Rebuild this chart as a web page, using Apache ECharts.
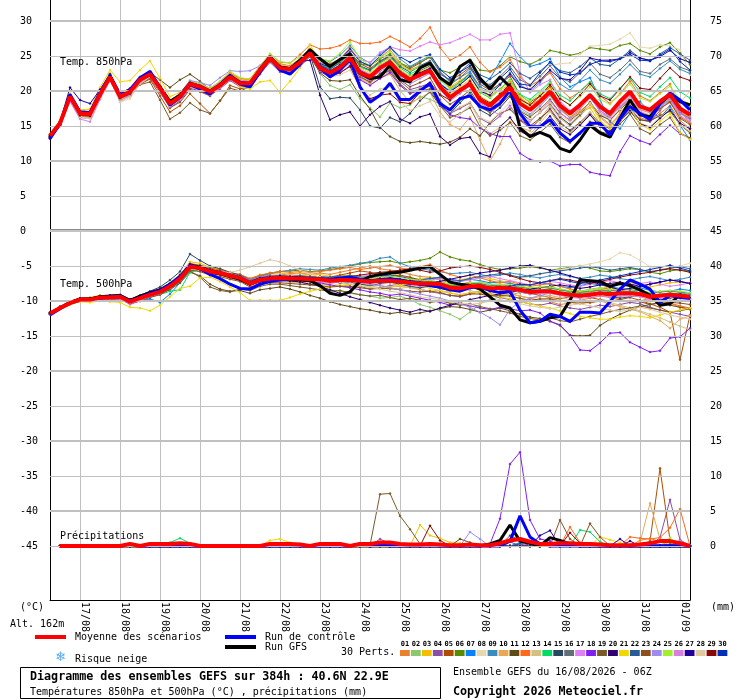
<!DOCTYPE html>
<html><head><meta charset="utf-8">
<script src="https://cdn.jsdelivr.net/npm/echarts@6/dist/echarts.min.js"></script>
<style>html,body{margin:0;padding:0;background:#fff}#c{width:740px;height:700px}</style>
</head><body><div id="c"></div>
<script>
const dayLabels = ['17/08','18/08','19/08','20/08','21/08','22/08','23/08','24/08','25/08','26/08','27/08','28/08','29/08','30/08','31/08','01/09'];
const leftTicks = [30,25,20,15,10,5,0,-5,-10,-15,-20,-25,-30,-35,-40,-45];
const rightTicks = [75,70,65,60,55,50,45,40,35,30,25,20,15,10,5,0];
const gridValues = [30,25,20,15,10,5,-5,-10,-15,-20,-25,-30,-35,-40,-45];
const pertColors = ['#e8822e','#8cc86e','#f0c000','#8c4fa8','#b04d00','#5a8a00','#0a82ff','#e8d8b0','#3a8cc0','#e8a858','#604a18','#ff6a1a','#d4c080','#00dc64','#284860','#646e78','#e080f8','#8020f0','#7a5a28','#300070','#f0d800','#285c98','#8a5020','#9c8cf0','#a0f030','#d880e0','#200098','#e0c8a0','#880808','#0030b8'];

// ---- 850 hPa temperature (°C), 6-hourly from 16/08 06Z ----
const mean850 = [13.6,15.4,19.2,16.8,16.7,19.5,22.0,19.2,19.9,21.6,22.4,20.4,18.2,19.2,21.0,20.6,19.9,20.8,22.0,21.1,21.1,23.0,24.7,23.3,23.1,24.1,25.4,23.3,22.6,23.4,24.7,22.6,22.0,23.3,24.1,22.5,21.6,22.3,22.9,20.6,19.1,20.1,21.0,18.7,17.9,19.2,20.5,18.2,17.3,18.5,19.9,17.9,16.8,18.0,19.4,17.8,16.8,18.5,19.9,17.8,17.3,18.5,19.5,17.5,16.6];
const ctrl850 = [13.2,15.3,19.5,17.0,16.9,19.8,22.2,19.5,20.2,21.9,22.8,20.5,18.0,19.1,20.9,20.3,19.6,20.9,22.2,21.0,20.6,22.7,24.8,23.0,22.4,23.8,25.5,23.3,22.0,23.0,24.5,20.6,18.4,19.4,21.1,18.8,18.8,20.0,21.1,18.2,17.3,18.9,19.3,17.8,17.3,18.2,20.1,16.8,14.9,14.9,15.9,14.0,12.8,14.0,15.4,15.4,13.7,16.1,17.8,16.8,15.9,18.2,19.7,18.7,17.3];
const gfs850 = [13.5,15.4,19.3,16.9,16.9,19.6,22.1,19.4,19.9,21.7,22.3,20.6,18.5,19.4,21.1,20.7,20.0,20.9,22.2,21.2,21.0,23.1,24.9,23.4,23.2,24.4,25.9,24.6,23.5,24.5,25.3,22.5,21.8,22.0,23.7,21.6,21.3,23.3,24.0,21.9,20.9,23.5,24.4,21.8,20.3,22.0,20.6,14.7,13.5,14.1,13.5,11.8,11.3,13.0,15.1,14.0,13.4,16.1,18.7,16.6,16.3,18.2,19.4,18.5,18.0];
const t850_01 = [13.8,15.6,19.5,17.2,17.0,19.8,22.3,19.5,20.1,21.9,22.6,20.8,18.6,19.5,21.2,20.9,20.3,21.1,22.4,21.6,21.4,23.4,25.0,23.9,23.6,24.6,26.0,24.5,23.9,24.6,26.2,24.3,23.5,24.8,25.9,24.1,23.0,23.6,24.2,22.1,20.4,21.3,22.6,20.5,19.2,20.3,21.4,19.1,18.0,18.8,20.1,17.5,16.2,17.1,18.3,16.4,15.2,16.6,18.0,16.2,15.7,16.8,17.9,15.8,14.6];
const t850_02 = [13.3,15.1,18.8,16.4,16.2,19.3,22.4,19.0,19.5,21.4,22.0,20.1,17.9,18.9,20.6,20.2,19.6,20.6,21.8,20.7,20.9,22.8,24.5,23.0,22.8,23.8,25.2,22.5,20.8,20.2,20.9,18.9,17.6,16.3,18.3,17.6,18.0,19.2,18.8,18.1,17.5,18.6,19.6,17.6,17.0,18.3,19.8,17.3,16.5,17.8,19.3,17.4,16.6,17.9,19.6,17.3,15.8,17.5,18.9,16.9,16.5,17.8,19.0,16.8,15.9];
const t850_03 = [13.9,15.7,19.6,17.3,17.4,20.0,22.5,19.8,20.3,22.0,22.9,20.9,18.7,19.6,21.3,20.9,20.4,21.3,22.5,21.7,21.6,23.5,25.1,23.8,23.4,24.5,25.9,24.1,23.4,24.0,25.2,23.5,22.9,24.1,24.8,23.6,22.9,23.4,23.9,21.8,20.6,21.5,22.4,20.3,19.4,20.1,21.0,18.9,18.1,19.2,20.5,18.0,16.1,16.9,17.6,15.4,14.8,16.5,18.7,17.4,16.9,18.3,19.4,17.1,16.2];
const t850_04 = [13.2,15.0,18.6,16.2,16.1,19.0,21.6,18.7,19.3,21.1,21.8,19.8,17.6,18.6,20.4,20.0,19.4,20.3,21.5,20.6,20.6,22.4,24.1,22.7,22.6,23.5,24.9,22.8,22.1,22.9,24.0,22.1,21.2,22.4,23.0,21.4,20.2,20.6,21.1,18.7,16.8,17.5,18.3,16.1,15.3,16.4,17.9,15.8,14.7,15.9,17.5,15.6,14.3,15.2,16.7,14.9,14.2,16.0,17.6,15.9,15.6,17.2,18.8,16.9,16.1];
const t850_05 = [13.4,15.2,18.9,16.5,16.3,19.1,21.8,18.9,19.4,21.0,21.7,19.3,17.0,17.9,19.6,18.2,16.8,18.6,20.8,20.3,20.6,22.6,24.3,23.0,22.9,24.0,25.3,23.7,23.3,24.4,25.6,23.9,23.2,24.3,25.1,23.8,23.2,24.0,24.9,22.7,21.5,22.3,23.4,21.0,20.1,21.0,22.1,19.4,18.4,19.3,20.6,18.3,17.0,18.1,19.3,17.5,16.5,17.7,18.9,17.0,16.3,17.5,18.5,16.3,15.4];
const t850_06 = [13.7,15.5,19.3,17.0,16.9,19.6,22.1,19.4,20.0,21.7,22.5,20.5,18.4,19.4,21.1,20.7,20.1,21.0,22.2,21.3,21.3,23.2,24.9,23.5,23.3,24.3,25.6,24.0,23.8,24.5,25.4,23.9,23.6,24.6,25.3,24.0,23.4,24.1,24.8,23.0,22.6,23.4,24.5,23.0,22.8,23.6,24.9,24.2,23.8,24.5,25.8,25.5,25.1,25.4,26.2,26.0,25.8,26.5,26.8,25.8,25.3,26.3,26.9,25.4,23.8];
const t850_07 = [13.5,15.3,19.0,16.6,16.5,19.4,21.9,19.1,19.8,21.5,22.3,20.3,18.1,19.1,20.9,20.5,19.8,20.7,21.9,21.0,21.0,22.9,24.6,23.2,23.0,24.0,25.3,23.6,22.9,23.8,25.1,23.0,22.3,23.5,24.5,22.8,21.9,22.6,23.3,21.1,20.0,21.2,22.5,20.5,21.8,24.2,26.8,24.9,23.5,23.9,24.6,22.0,20.6,21.3,21.9,18.8,15.6,14.6,16.8,18.5,17.0,16.2,17.8,15.1,13.0];
const t850_08 = [13.8,15.6,19.0,16.4,16.0,19.0,21.7,18.4,18.9,21.1,22.2,20.3,18.3,19.4,21.2,20.7,20.0,21.1,22.4,21.4,21.2,23.3,24.9,23.6,23.4,24.4,25.8,23.9,23.1,23.8,24.9,22.9,22.2,23.6,24.7,22.7,21.6,22.2,22.8,20.9,19.8,20.9,22.1,20.4,19.7,20.8,22.4,20.6,20.3,21.8,23.6,23.9,24.0,25.3,26.4,26.5,26.7,27.4,28.3,26.3,26.1,26.6,26.4,25.9,22.3];
const t850_09 = [13.6,15.5,19.4,17.1,17.0,19.8,22.2,19.5,20.2,21.8,22.5,20.6,18.5,19.3,21.1,20.8,20.2,21.0,22.1,21.2,21.3,23.1,24.8,23.4,23.2,24.2,25.5,24.6,24.2,25.1,26.5,24.8,24.0,25.3,26.2,24.6,23.5,24.3,25.0,22.8,21.2,21.9,22.8,20.6,19.9,21.0,22.6,20.9,20.0,21.2,22.8,21.0,20.1,21.5,23.0,21.6,21.1,22.4,23.8,22.4,22.0,23.2,24.3,23.1,22.5];
const t850_10 = [13.5,15.2,18.9,16.6,16.4,19.3,21.8,19.0,19.6,21.4,22.2,20.2,18.0,18.9,20.7,20.3,19.6,20.5,21.7,20.8,20.8,22.7,24.4,23.0,22.8,23.9,25.2,23.0,22.2,22.9,24.0,21.8,20.9,21.8,22.4,20.1,18.3,19.0,19.8,17.0,15.2,14.5,16.3,13.0,10.0,12.4,15.6,14.8,14.3,16.0,17.9,16.1,15.0,16.4,18.0,16.2,15.0,16.9,18.5,16.6,16.0,17.4,18.6,16.4,15.5];
const t850_11 = [13.7,15.6,19.4,17.1,17.0,19.9,22.3,19.6,20.4,22.0,22.6,21.6,20.5,21.6,22.4,21.4,20.2,21.0,22.1,21.0,20.9,22.8,24.5,23.1,22.8,23.8,25.0,22.6,21.5,21.4,21.6,19.3,17.4,14.8,13.5,12.8,12.6,12.8,12.6,12.4,12.7,13.4,14.6,13.6,15.5,16.8,17.4,15.9,15.0,16.1,17.3,15.4,14.4,15.5,16.9,15.3,14.6,15.8,17.1,15.9,15.7,16.5,17.1,15.2,14.0];
const t850_12 = [13.8,15.7,19.5,17.2,17.1,19.9,22.4,19.6,20.2,21.9,22.7,20.8,18.6,19.6,21.4,21.0,20.4,21.3,22.6,21.8,21.7,23.6,25.3,24.1,24.0,25.2,26.6,26.0,26.1,26.5,27.3,26.8,26.8,27.0,27.8,27.1,26.3,27.5,29.1,26.2,24.4,25.1,26.3,24.1,22.7,23.4,24.5,22.0,20.8,21.5,22.6,20.3,19.0,19.9,21.2,19.3,18.2,19.6,21.4,19.3,18.6,19.8,21.0,17.2,15.4];
const t850_13 = [13.4,15.3,19.0,16.5,16.3,19.2,21.8,18.8,19.3,21.3,22.1,20.0,17.8,18.8,20.6,20.2,19.5,20.5,21.8,20.9,20.8,22.7,24.4,23.0,22.7,23.7,25.1,22.9,22.0,22.8,24.0,21.9,21.1,22.1,22.7,21.0,19.8,20.4,21.0,18.5,16.9,17.7,18.4,15.6,13.9,14.8,16.2,14.1,13.8,15.4,17.1,15.0,14.0,15.3,16.9,15.0,14.1,15.6,17.1,15.4,14.9,16.3,17.4,15.1,14.3];
const t850_14 = [13.5,15.4,19.1,16.9,16.8,19.6,22.1,19.3,19.9,21.7,22.4,20.5,18.3,19.3,21.1,20.6,20.0,20.9,22.1,21.2,21.2,23.1,24.8,23.4,23.2,24.2,25.5,23.8,23.2,24.0,25.3,23.4,22.9,24.0,24.9,23.3,22.4,23.2,23.8,21.6,20.3,21.2,22.2,19.8,19.0,20.3,21.6,19.5,18.8,20.0,21.3,19.4,18.6,20.0,21.3,19.6,18.9,20.4,21.8,19.8,19.2,20.6,21.9,19.9,19.0];
const t850_15 = [13.2,15.1,18.9,16.6,16.5,19.3,21.9,19.0,19.7,21.4,22.2,20.2,18.0,19.1,20.8,20.4,19.7,20.6,21.8,21.0,21.0,22.9,24.6,23.2,23.1,24.1,25.2,20.6,18.9,19.1,19.0,17.3,15.0,14.7,16.2,15.6,16.8,18.6,19.9,17.9,16.8,18.3,19.8,17.3,16.5,17.6,19.2,17.0,15.8,16.9,18.2,16.3,15.2,16.6,18.4,16.5,15.9,17.3,18.8,16.8,16.3,17.8,19.3,17.6,16.9];
const t850_16 = [13.6,15.4,19.2,16.8,16.6,19.5,22.0,19.2,19.8,21.6,22.3,20.4,18.2,19.2,21.0,20.5,19.8,20.7,22.0,21.0,21.0,22.9,24.6,23.2,23.0,24.0,25.3,23.2,22.5,23.3,24.8,22.8,22.2,23.6,24.4,22.9,22.1,22.9,23.6,21.8,20.9,21.9,23.2,21.4,20.9,22.1,23.5,21.6,20.9,22.1,23.6,21.9,21.3,22.6,24.0,22.4,21.9,23.0,24.4,22.8,22.5,23.8,24.6,23.4,22.9];
const t850_17 = [13.7,15.5,19.2,16.6,16.4,19.4,22.0,19.0,19.6,21.7,22.5,20.6,18.4,19.5,21.3,20.9,20.3,21.2,22.3,21.5,21.4,23.3,24.9,23.6,23.3,24.4,25.6,24.0,23.4,24.4,25.9,24.5,24.1,25.5,26.3,25.9,25.7,26.4,27.0,26.6,26.9,27.5,28.1,27.3,27.3,28.1,28.3,22.5,19.8,20.9,21.6,18.6,17.2,18.1,19.3,17.0,15.9,17.3,19.0,17.1,16.4,17.6,18.8,16.5,15.6];
const t850_18 = [13.4,15.2,19.0,16.7,16.6,19.4,21.9,19.1,19.7,21.5,22.2,20.3,18.1,19.0,20.8,20.3,19.7,20.6,21.8,20.9,20.9,22.8,24.5,23.1,22.9,23.9,25.1,22.8,22.0,22.6,23.6,21.6,20.8,21.8,22.6,20.8,19.6,20.2,20.7,18.2,16.6,16.2,16.0,14.7,13.9,13.5,13.5,11.1,10.2,9.9,10.0,9.3,9.5,9.5,8.4,8.1,7.9,11.3,13.6,12.9,12.4,13.8,15.1,13.9,13.2];
const t850_19 = [13.5,15.3,19.1,16.7,16.5,19.4,21.9,19.1,19.5,20.9,21.3,18.7,16.0,16.9,18.3,17.3,16.8,18.6,20.4,20.0,20.6,22.5,24.3,23.0,22.9,23.9,25.2,23.3,22.7,23.3,24.4,22.3,21.5,22.3,22.9,21.0,19.8,20.0,20.3,17.9,16.2,16.8,17.6,14.9,13.6,14.4,15.5,13.6,13.0,14.1,15.3,13.4,12.6,13.9,15.6,14.2,13.8,15.3,16.7,14.6,13.9,15.2,16.2,14.0,13.3];
const t850_20 = [13.3,15.1,19.0,16.9,16.8,19.7,22.2,19.3,19.9,21.6,22.3,20.3,18.1,19.1,20.9,20.5,19.8,20.8,22.1,21.2,21.2,23.1,24.8,23.4,23.2,24.2,24.4,19.4,15.9,16.6,17.0,15.0,16.6,17.8,18.5,16.0,15.4,16.3,16.7,13.5,12.3,13.2,13.4,11.1,10.6,14.9,16.2,14.3,13.5,14.9,16.4,14.6,13.8,15.1,16.6,14.9,14.2,15.8,17.2,15.3,14.8,16.1,17.3,15.4,14.6];
const t850_21 = [13.7,15.5,19.4,17.3,17.4,20.5,23.0,21.3,21.5,23.0,24.3,21.8,19.2,19.8,21.3,20.8,20.2,21.0,21.9,20.6,20.3,21.3,21.5,19.8,21.4,23.3,26.6,24.3,23.5,24.2,25.4,23.3,22.6,23.8,24.7,23.1,22.1,22.8,23.4,21.0,19.6,20.6,21.7,19.3,18.4,19.6,21.0,18.7,17.6,18.8,20.2,17.8,16.4,17.2,18.3,15.8,14.6,16.0,17.5,15.2,14.5,15.7,16.8,14.0,13.1];
const t850_22 = [13.6,15.5,19.3,16.9,16.8,19.7,22.1,19.3,19.9,21.7,22.4,20.4,18.3,19.3,21.0,20.6,20.0,20.9,22.1,21.2,21.1,23.0,24.8,23.4,23.1,24.1,25.4,23.7,23.1,24.1,25.5,23.6,23.0,24.2,25.0,23.5,22.7,23.6,24.3,22.4,21.6,22.7,24.0,22.3,21.7,22.7,24.0,22.5,21.8,22.8,24.1,22.9,22.6,23.5,24.7,23.8,23.6,24.6,25.8,24.7,24.3,25.3,26.2,25.3,24.4];
const t850_23 = [13.5,15.3,19.0,16.6,16.5,19.3,21.8,19.0,19.7,21.4,22.1,20.1,17.6,18.4,20.2,19.9,19.3,20.5,21.8,20.9,20.9,22.8,24.4,23.1,22.9,23.9,25.1,23.0,22.3,23.0,24.2,22.0,21.3,22.5,23.3,21.6,20.6,21.2,21.9,19.4,18.1,19.0,20.1,17.8,16.9,18.0,19.4,17.1,16.3,17.4,18.8,16.9,15.8,16.9,18.4,16.7,15.8,17.3,18.8,16.9,16.4,17.5,18.4,16.1,15.2];
const t850_24 = [13.6,15.4,19.1,16.7,16.6,19.5,21.9,19.2,19.8,21.6,22.5,20.7,18.6,19.7,21.5,21.2,20.8,21.9,22.9,22.8,22.9,23.6,25.1,23.4,23.2,24.0,25.1,22.9,22.4,23.2,24.4,22.3,21.6,22.8,23.6,22.0,21.0,21.8,22.5,20.2,18.6,19.6,20.8,18.3,17.4,18.6,19.9,17.6,16.7,17.9,19.4,17.3,16.2,17.4,19.0,17.2,16.2,17.7,19.2,17.1,16.5,17.7,18.9,16.8,15.9];
const t850_25 = [13.7,15.6,19.3,16.9,16.8,19.8,22.2,19.4,20.0,21.9,22.7,20.7,18.5,19.5,21.3,21.0,20.4,21.4,22.8,21.9,21.7,23.5,25.3,24.2,24.0,24.9,25.8,24.6,24.3,25.4,27.0,24.6,23.6,24.8,25.6,23.9,22.9,23.5,24.0,21.7,20.3,21.1,22.1,19.9,19.1,20.2,21.5,19.3,18.5,19.7,21.1,19.0,18.0,19.2,20.6,18.8,18.1,19.5,21.0,19.0,18.5,19.6,20.7,18.7,17.9];
const t850_26 = [13.5,15.3,18.5,16.0,15.6,18.8,21.5,18.6,19.4,21.2,22.0,20.0,17.8,18.8,20.6,20.2,19.5,20.5,21.7,20.8,20.8,22.7,24.4,23.0,22.9,23.8,25.2,23.4,22.8,23.8,25.1,23.1,22.4,23.6,24.3,22.7,21.6,22.4,23.0,20.6,19.3,20.3,21.5,19.1,17.4,16.5,17.8,16.0,15.6,17.0,18.6,16.8,15.9,17.6,19.5,17.2,16.3,17.9,19.4,17.3,16.9,18.1,19.3,17.2,16.4];
const t850_27 = [13.2,15.6,20.5,18.7,18.2,20.2,22.4,19.6,20.0,21.7,22.6,20.6,18.4,19.4,21.2,20.7,20.1,20.9,22.2,21.3,21.2,23.2,24.9,23.6,23.3,24.3,25.6,23.6,22.9,23.7,25.0,22.9,22.2,23.4,24.2,22.7,21.8,22.6,23.2,21.0,19.9,20.9,22.1,20.0,19.4,20.9,22.4,20.6,20.2,21.5,23.0,21.8,21.6,22.9,24.7,24.4,24.4,24.6,25.5,24.7,24.4,24.9,25.8,24.6,24.1];
const t850_28 = [13.6,15.3,18.8,16.3,16.1,19.1,21.6,18.5,19.1,21.0,22.0,20.1,18.0,19.0,20.8,20.5,19.8,20.8,22.0,21.0,21.0,22.9,24.6,23.2,23.0,24.0,25.2,23.0,22.0,22.3,23.0,20.5,19.4,20.3,20.6,18.5,17.2,17.9,18.5,16.4,15.6,16.7,18.0,16.2,15.6,16.9,18.4,16.6,15.8,16.9,18.3,16.5,15.6,16.8,18.3,16.7,16.0,17.4,19.0,17.1,16.6,17.9,19.2,18.3,20.0];
const t850_29 = [13.4,15.2,18.9,16.5,16.4,19.3,21.9,19.0,19.6,21.5,22.2,20.2,18.1,19.1,20.8,20.4,19.7,20.7,21.9,21.0,21.0,22.9,24.5,23.2,23.0,24.0,25.2,23.0,22.2,22.6,23.5,20.5,18.9,19.4,19.6,18.4,18.2,19.8,21.2,19.5,18.7,20.0,21.4,19.1,18.3,19.6,21.0,18.8,18.0,19.3,20.9,18.9,18.0,19.4,21.0,19.3,18.7,20.3,22.0,20.4,20.2,21.8,23.3,22.0,21.5];
const t850_30 = [13.5,15.5,19.3,17.0,16.9,19.8,22.3,19.4,20.1,21.8,22.6,20.5,18.4,19.4,21.1,20.7,20.0,21.0,22.2,21.3,21.2,23.1,24.8,23.4,23.2,24.2,25.5,23.9,23.4,24.5,26.0,24.2,23.6,25.0,26.3,24.9,24.1,24.8,25.2,23.1,21.9,22.7,23.6,21.3,20.6,21.8,23.1,21.0,20.8,22.6,24.1,22.7,22.3,22.5,23.8,24.3,24.2,24.6,25.2,24.4,24.3,25.1,26.0,24.2,23.0];

// ---- 500 hPa temperature (°C) ----
const mean500 = [-11.8,-11.0,-10.3,-9.8,-9.8,-9.5,-9.5,-9.4,-10.1,-9.6,-9.1,-8.7,-7.9,-6.8,-5.1,-5.3,-5.8,-6.0,-6.4,-6.7,-7.5,-7.0,-6.8,-6.7,-6.8,-6.8,-6.9,-6.9,-7.1,-7.0,-7.0,-7.1,-7.2,-7.1,-7.1,-7.2,-7.4,-7.5,-7.5,-7.6,-8.1,-8.2,-7.9,-7.9,-8.2,-8.1,-8.2,-8.4,-8.7,-8.6,-8.6,-8.9,-9.1,-9.2,-9.1,-8.9,-9.0,-8.9,-8.9,-9.0,-9.4,-9.2,-9.1,-9.2,-9.4];
const ctrl500 = [-12.0,-11.1,-10.3,-9.9,-9.8,-9.6,-9.4,-9.3,-10.0,-9.5,-8.9,-8.5,-7.6,-6.5,-4.9,-5.4,-6.2,-6.8,-7.6,-8.2,-8.3,-7.6,-7.2,-7.0,-6.9,-6.8,-6.9,-6.8,-6.9,-6.7,-6.6,-6.9,-7.2,-7.0,-6.9,-7.0,-7.3,-7.6,-7.8,-8.0,-8.4,-8.6,-8.1,-7.9,-8.5,-8.8,-8.6,-11.3,-13.1,-12.9,-11.9,-12.2,-12.9,-11.6,-11.6,-11.7,-10.1,-8.3,-7.0,-7.6,-8.3,-10.2,-9.2,-9.5,-9.6];
const gfs500 = [-11.8,-11.0,-10.2,-9.7,-9.7,-9.4,-9.3,-9.2,-9.9,-9.3,-8.8,-8.4,-7.6,-6.7,-5.0,-5.2,-5.9,-6.1,-6.5,-6.9,-7.6,-7.1,-6.9,-6.9,-7.0,-7.0,-7.1,-7.8,-8.9,-9.2,-8.7,-7.2,-6.5,-6.2,-6.0,-5.9,-5.6,-5.3,-5.1,-6.2,-7.3,-7.6,-7.8,-8.3,-9.4,-10.6,-11.0,-12.7,-13.1,-12.9,-12.4,-12.2,-9.9,-7.0,-7.1,-7.2,-7.9,-7.5,-7.8,-8.4,-9.2,-10.6,-10.4,-9.1,-9.6];
const t500_01 = [-11.9,-11.0,-10.2,-9.7,-9.6,-9.3,-9.2,-9.3,-9.8,-9.4,-8.9,-8.4,-7.6,-6.4,-4.6,-4.9,-5.2,-5.6,-6.0,-6.4,-7.0,-6.6,-6.3,-6.3,-6.1,-6.0,-6.2,-6.0,-6.2,-5.9,-5.6,-5.3,-5.0,-5.4,-5.6,-5.8,-6.2,-6.5,-6.6,-7.0,-7.4,-7.6,-7.3,-7.5,-7.9,-8.4,-8.9,-9.3,-9.6,-9.9,-10.1,-10.5,-10.3,-9.9,-9.6,-9.3,-9.5,-9.8,-10.2,-10.0,-9.6,-9.8,-10.3,-10.9,-11.2];
const t500_02 = [-11.7,-10.9,-10.3,-9.9,-9.9,-9.6,-9.6,-9.5,-10.2,-9.8,-9.3,-8.9,-8.1,-7.1,-5.6,-5.6,-6.0,-6.2,-6.6,-6.9,-7.7,-7.3,-7.1,-7.0,-7.2,-7.3,-7.6,-7.9,-8.4,-8.6,-8.9,-9.1,-9.3,-9.6,-9.5,-9.3,-9.8,-10.5,-10.9,-11.4,-11.9,-12.6,-11.6,-10.4,-9.8,-9.4,-9.1,-8.8,-8.9,-8.6,-8.4,-8.7,-8.8,-8.6,-8.3,-8.1,-8.4,-8.7,-8.6,-8.8,-9.2,-9.1,-8.8,-9.0,-9.3];
const t500_03 = [-11.6,-10.8,-10.1,-9.6,-9.5,-9.2,-9.3,-9.2,-9.8,-9.3,-8.8,-8.3,-7.4,-6.2,-4.4,-4.6,-5.2,-5.4,-5.9,-6.2,-6.8,-6.3,-6.1,-6.0,-6.2,-6.1,-6.3,-6.2,-6.5,-6.4,-6.3,-6.6,-6.5,-6.2,-6.0,-6.4,-6.7,-6.9,-6.6,-6.8,-7.2,-7.0,-6.7,-6.5,-6.8,-7.1,-7.4,-7.8,-8.2,-8.1,-7.9,-8.3,-8.6,-8.8,-8.5,-8.2,-8.0,-7.6,-7.4,-7.6,-8.0,-7.7,-7.4,-7.3,-7.5];
const t500_04 = [-11.9,-11.1,-10.4,-9.8,-9.9,-9.6,-9.5,-9.6,-10.3,-9.8,-9.2,-8.9,-8.2,-7.1,-5.4,-5.2,-5.5,-5.7,-6.1,-6.5,-7.2,-6.9,-6.6,-6.5,-6.6,-6.7,-6.8,-7.0,-7.3,-7.4,-7.6,-7.9,-8.3,-8.1,-7.8,-7.6,-7.9,-8.3,-8.7,-8.9,-9.2,-9.4,-9.0,-8.7,-9.1,-9.5,-9.8,-10.1,-10.4,-10.6,-10.3,-10.7,-11.0,-11.2,-10.9,-10.6,-10.8,-10.5,-10.2,-10.4,-10.9,-11.3,-11.6,-11.9,-12.2];
const t500_05 = [-11.8,-11.0,-10.4,-9.9,-9.8,-9.6,-9.6,-9.5,-10.2,-9.7,-9.2,-8.8,-8.0,-6.9,-5.3,-5.5,-5.9,-6.1,-6.5,-6.9,-7.6,-7.1,-6.9,-6.8,-6.9,-6.9,-7.0,-6.8,-6.6,-6.3,-6.0,-5.7,-5.9,-6.2,-6.5,-6.3,-6.6,-7.0,-7.2,-7.5,-7.8,-8.0,-7.8,-7.6,-8.0,-8.3,-8.5,-8.7,-8.9,-9.2,-9.5,-9.7,-9.4,-9.2,-9.5,-9.8,-10.0,-9.8,-9.5,-9.9,-10.4,-10.9,-11.6,-18.4,-12.0];
const t500_06 = [-11.7,-10.9,-10.2,-9.7,-9.7,-9.4,-9.3,-9.3,-10.0,-9.4,-8.9,-8.5,-7.7,-6.5,-4.8,-4.9,-5.3,-5.6,-6.1,-6.3,-6.9,-6.4,-6.0,-5.8,-5.7,-5.6,-5.8,-5.7,-5.5,-5.3,-5.0,-4.7,-4.5,-4.4,-4.3,-4.6,-4.4,-4.2,-3.9,-3.0,-3.7,-4.1,-4.3,-4.8,-5.2,-5.5,-5.4,-5.3,-5.1,-5.3,-5.6,-5.4,-5.2,-5.0,-5.3,-5.7,-5.8,-5.6,-5.4,-5.5,-5.9,-6.1,-5.7,-5.5,-5.8];
const t500_07 = [-11.9,-11.1,-10.4,-10.0,-10.0,-9.7,-9.8,-9.7,-10.4,-10.0,-9.7,-10.2,-9.0,-7.4,-5.6,-5.4,-5.7,-5.9,-6.3,-6.5,-7.3,-6.8,-6.5,-6.4,-6.5,-6.4,-6.6,-6.7,-6.9,-6.6,-6.4,-6.6,-6.5,-6.3,-6.6,-6.9,-7.1,-7.0,-6.8,-6.7,-7.0,-7.2,-6.9,-7.1,-7.4,-7.3,-7.5,-7.8,-7.7,-7.4,-7.6,-7.9,-8.1,-7.8,-7.5,-7.7,-8.0,-8.2,-8.4,-8.1,-8.5,-8.7,-8.6,-8.3,-8.5];
const t500_08 = [-11.8,-11.0,-10.3,-9.8,-9.7,-9.5,-9.4,-9.4,-10.0,-9.6,-9.1,-8.6,-7.8,-6.7,-5.2,-5.4,-5.9,-6.2,-6.6,-7.0,-7.6,-7.2,-7.0,-6.9,-7.1,-7.2,-7.3,-7.5,-7.8,-7.6,-7.3,-7.6,-7.9,-7.7,-7.4,-7.7,-8.0,-8.2,-8.0,-7.8,-8.1,-8.4,-8.2,-8.0,-7.7,-7.4,-7.1,-6.8,-6.5,-6.2,-5.8,-5.5,-5.3,-5.0,-4.7,-4.4,-4.0,-3.1,-3.4,-4.2,-5.1,-5.4,-5.3,-5.0,-4.6];
const t500_09 = [-11.6,-10.9,-10.2,-9.7,-9.6,-9.4,-9.4,-9.3,-9.9,-9.5,-9.0,-8.6,-7.8,-6.7,-5.0,-5.1,-5.5,-5.7,-6.1,-6.3,-6.9,-6.5,-6.1,-5.8,-5.6,-5.4,-5.5,-5.6,-5.3,-5.1,-4.9,-4.6,-4.4,-3.9,-3.7,-4.6,-5.1,-5.4,-5.6,-5.8,-6.1,-6.0,-5.9,-6.2,-6.5,-6.3,-6.0,-6.2,-6.5,-6.7,-6.4,-6.2,-6.5,-6.8,-6.6,-6.3,-6.5,-6.8,-7.0,-6.7,-6.5,-6.8,-7.1,-6.9,-6.6];
const t500_10 = [-11.8,-11.0,-10.3,-9.8,-9.8,-9.5,-9.5,-9.4,-10.1,-9.6,-9.2,-8.8,-8.0,-6.9,-5.3,-5.6,-6.1,-6.3,-6.7,-7.0,-7.8,-7.3,-7.1,-7.0,-7.1,-7.2,-7.2,-7.3,-7.5,-7.3,-7.2,-7.4,-7.6,-7.8,-8.0,-7.9,-8.1,-8.4,-8.6,-8.5,-8.9,-9.1,-8.8,-8.6,-8.9,-9.2,-9.0,-9.3,-9.6,-9.4,-9.2,-9.5,-9.8,-10.1,-10.3,-10.0,-10.4,-10.8,-11.2,-11.5,-12.2,-12.8,-13.9,-12.6,-12.1];
const t500_11 = [-11.9,-11.1,-10.4,-9.9,-10.0,-9.7,-9.7,-9.7,-10.4,-9.9,-9.4,-9.0,-8.4,-7.4,-5.9,-6.4,-7.6,-8.3,-8.6,-8.5,-8.9,-8.4,-8.2,-8.0,-8.3,-8.7,-9.2,-9.6,-10.1,-10.5,-10.8,-11.1,-11.3,-11.6,-11.8,-11.6,-11.9,-11.7,-11.4,-11.1,-10.8,-10.9,-11.2,-11.6,-11.3,-11.0,-11.4,-11.9,-12.3,-12.5,-12.9,-13.5,-14.9,-15.0,-14.9,-13.5,-12.6,-11.9,-11.3,-10.8,-10.5,-10.2,-10.6,-10.9,-11.1];
const t500_12 = [-11.7,-10.9,-10.2,-9.7,-9.6,-9.3,-9.3,-9.2,-9.9,-9.4,-8.9,-8.5,-7.7,-6.5,-4.8,-5.0,-5.4,-5.6,-6.0,-6.2,-6.8,-6.3,-6.0,-5.8,-5.9,-5.8,-5.9,-5.8,-5.6,-5.4,-5.2,-5.5,-5.3,-5.1,-4.9,-5.3,-5.5,-5.1,-4.8,-5.6,-6.2,-6.6,-6.3,-6.7,-7.1,-7.4,-7.2,-7.6,-7.9,-7.7,-7.5,-7.9,-8.3,-8.6,-8.8,-8.4,-8.1,-8.4,-8.8,-9.1,-9.4,-9.9,-10.3,-10.7,-11.0];
const t500_13 = [-11.8,-11.0,-10.3,-9.9,-9.9,-9.6,-9.6,-9.5,-10.2,-9.7,-9.3,-8.9,-8.1,-7.0,-5.4,-5.6,-6.0,-6.3,-6.8,-7.1,-7.8,-7.5,-7.3,-7.2,-7.3,-7.4,-7.5,-7.6,-7.8,-7.9,-7.7,-7.5,-7.8,-8.1,-8.3,-8.2,-8.0,-8.3,-8.6,-8.8,-8.6,-8.3,-8.5,-8.9,-9.2,-9.0,-9.3,-9.7,-10.0,-9.8,-9.6,-9.9,-10.2,-10.4,-10.1,-9.9,-10.2,-10.6,-11.0,-11.4,-11.9,-12.4,-13.0,-13.6,-14.1];
const t500_14 = [-11.8,-11.0,-10.4,-9.9,-9.8,-9.6,-9.6,-9.5,-10.2,-9.8,-9.4,-9.1,-8.6,-8.4,-5.9,-5.5,-5.8,-6.0,-6.3,-6.6,-7.3,-6.9,-6.6,-6.5,-6.6,-6.6,-6.7,-6.8,-7.0,-6.9,-6.8,-7.0,-7.1,-6.9,-6.7,-6.9,-7.2,-7.3,-7.1,-7.3,-7.6,-7.8,-7.5,-7.3,-7.6,-7.9,-8.1,-8.0,-8.3,-8.5,-8.2,-8.4,-8.7,-8.9,-8.6,-8.4,-8.7,-8.9,-8.7,-8.5,-8.9,-9.2,-9.0,-8.8,-9.1];
const t500_15 = [-11.9,-11.0,-10.2,-9.7,-9.6,-9.4,-9.3,-9.2,-9.8,-9.2,-8.6,-8.0,-7.0,-5.8,-3.3,-4.2,-5.0,-5.4,-5.9,-6.3,-7.0,-6.6,-6.4,-6.4,-6.6,-6.7,-6.9,-7.0,-7.2,-7.4,-7.3,-7.6,-7.8,-7.5,-7.3,-7.6,-7.9,-8.1,-7.9,-8.2,-8.5,-8.3,-8.0,-8.2,-8.6,-8.8,-8.5,-8.7,-9.0,-8.8,-8.6,-8.9,-9.3,-9.5,-9.2,-9.0,-9.3,-9.6,-9.4,-9.2,-9.5,-9.8,-9.6,-9.3,-9.6];
const t500_16 = [-11.7,-11.0,-10.3,-9.8,-9.7,-9.5,-9.4,-9.3,-10.0,-9.5,-9.0,-8.6,-7.8,-6.7,-5.0,-5.2,-5.7,-5.9,-6.2,-6.5,-7.3,-6.8,-6.6,-6.5,-6.6,-6.5,-6.6,-6.6,-6.8,-6.7,-6.7,-6.8,-6.9,-6.8,-6.8,-6.9,-7.1,-7.2,-7.2,-7.3,-7.7,-7.8,-7.5,-7.5,-7.8,-7.7,-7.8,-8.0,-8.2,-8.1,-8.1,-8.4,-8.6,-8.7,-8.6,-8.4,-8.5,-8.4,-8.4,-8.5,-8.9,-8.7,-8.6,-8.7,-8.9];
const t500_17 = [-11.8,-11.0,-10.3,-9.9,-9.9,-9.7,-9.7,-9.7,-10.5,-10.0,-9.4,-9.0,-8.1,-6.9,-5.3,-5.1,-5.5,-5.7,-6.1,-6.4,-7.0,-6.6,-6.4,-6.3,-6.4,-6.4,-6.5,-6.6,-6.9,-7.0,-6.8,-6.5,-6.3,-6.5,-6.8,-7.1,-7.4,-7.3,-7.0,-6.8,-6.9,-7.2,-7.0,-6.7,-6.5,-6.8,-7.1,-7.4,-7.7,-7.5,-7.2,-7.4,-7.7,-7.9,-7.6,-7.3,-7.1,-7.4,-7.7,-7.5,-7.3,-7.6,-7.9,-7.7,-7.4];
const t500_18 = [-11.7,-11.0,-10.3,-9.8,-9.8,-9.6,-9.5,-9.5,-10.2,-9.7,-9.2,-8.8,-8.0,-6.9,-5.2,-5.5,-6.0,-6.2,-6.6,-6.9,-7.7,-7.2,-7.0,-6.9,-7.0,-7.0,-7.2,-7.4,-7.7,-7.9,-8.1,-8.4,-8.7,-8.9,-9.2,-9.0,-9.3,-9.6,-9.9,-10.2,-10.6,-10.4,-10.7,-11.0,-11.2,-10.9,-11.1,-11.4,-11.3,-11.7,-12.9,-13.4,-14.9,-17.0,-17.1,-16.0,-14.6,-14.5,-15.9,-16.6,-17.3,-17.1,-15.3,-15.1,-13.9];
const t500_19 = [-11.9,-11.1,-10.4,-10.0,-10.0,-9.8,-9.8,-9.7,-10.4,-10.0,-9.5,-9.1,-8.3,-7.2,-5.7,-6.6,-8.0,-8.5,-8.7,-8.3,-8.5,-7.9,-7.6,-7.6,-7.8,-8.0,-8.2,-8.4,-8.6,-8.5,-8.8,-9.1,-9.3,-9.2,-9.5,-9.8,-9.6,-9.9,-10.2,-10.0,-10.3,-10.6,-10.4,-10.8,-11.1,-11.4,-11.7,-12.2,-12.5,-12.7,-12.4,-12.8,-13.0,-12.6,-12.2,-11.9,-11.5,-11.2,-11.0,-10.7,-11.0,-11.3,-11.6,-11.4,-11.1];
const t500_20 = [-11.8,-11.0,-10.3,-9.8,-9.8,-9.5,-9.5,-9.4,-10.1,-9.6,-9.0,-8.6,-7.8,-6.6,-4.9,-5.2,-5.7,-6.0,-6.4,-6.8,-7.6,-7.1,-6.9,-6.9,-7.1,-7.3,-7.6,-7.9,-8.4,-8.9,-9.4,-9.8,-10.2,-10.6,-11.0,-11.3,-11.6,-11.2,-11.5,-11.0,-10.6,-10.2,-9.8,-9.5,-9.2,-9.0,-8.8,-8.5,-8.3,-8.1,-7.9,-7.7,-7.9,-8.2,-8.0,-7.7,-7.5,-7.3,-7.6,-7.9,-7.6,-7.3,-7.0,-7.2,-7.5];
const t500_21 = [-11.9,-11.2,-10.5,-10.1,-10.2,-10.0,-10.1,-10.2,-10.9,-11.0,-11.4,-10.6,-9.4,-8.2,-7.9,-6.7,-6.6,-7.2,-8.0,-8.8,-9.9,-9.9,-9.9,-9.9,-9.5,-9.0,-8.6,-8.3,-8.0,-7.8,-7.6,-7.8,-8.1,-8.3,-8.0,-7.7,-7.5,-7.8,-8.2,-8.5,-8.8,-9.1,-8.9,-8.7,-9.0,-9.4,-9.7,-10.1,-10.4,-10.7,-11.0,-11.4,-11.8,-12.2,-12.4,-12.6,-12.6,-12.3,-12.1,-12.2,-12.4,-12.0,-11.6,-11.3,-11.0];
const t500_22 = [-11.7,-10.9,-10.2,-9.7,-9.7,-9.4,-9.4,-9.3,-10.0,-9.5,-9.0,-8.5,-7.7,-6.6,-4.9,-5.0,-5.5,-5.8,-6.2,-6.4,-7.1,-6.7,-6.5,-6.4,-6.5,-6.4,-6.5,-6.5,-6.6,-6.5,-6.4,-6.6,-6.7,-6.5,-6.3,-6.5,-6.8,-7.0,-6.8,-6.6,-6.9,-7.1,-6.8,-6.5,-6.3,-6.1,-6.3,-6.6,-6.4,-6.1,-5.9,-5.7,-5.5,-5.3,-5.1,-5.3,-5.6,-5.4,-5.2,-5.5,-5.8,-5.6,-5.3,-5.1,-5.4];
const t500_23 = [-11.8,-11.0,-10.3,-9.9,-9.9,-9.6,-9.6,-9.6,-10.3,-9.8,-9.3,-8.9,-8.2,-7.2,-5.6,-5.8,-6.3,-6.5,-6.9,-7.2,-8.0,-7.6,-7.4,-7.4,-7.5,-7.6,-7.7,-7.8,-8.0,-7.9,-7.9,-8.1,-8.3,-8.2,-8.2,-8.4,-8.6,-8.7,-8.6,-8.8,-9.2,-9.3,-9.0,-9.0,-9.3,-9.2,-9.3,-9.6,-9.9,-9.7,-9.7,-10.0,-10.2,-10.3,-10.2,-10.0,-10.1,-10.0,-10.0,-10.1,-10.5,-10.3,-10.2,-10.3,-10.5];
const t500_24 = [-11.7,-10.9,-10.2,-9.7,-9.6,-9.3,-9.3,-9.2,-9.9,-9.4,-8.9,-8.5,-7.7,-6.6,-5.0,-5.3,-5.8,-6.0,-6.3,-6.6,-7.3,-6.8,-6.6,-6.5,-6.6,-6.6,-6.7,-6.8,-7.0,-6.9,-7.1,-7.4,-7.6,-7.8,-8.1,-8.4,-8.7,-9.0,-9.3,-9.6,-10.0,-10.4,-10.9,-11.6,-12.4,-13.4,-11.2,-10.1,-9.6,-9.2,-8.9,-9.1,-9.4,-9.2,-8.9,-8.7,-9.0,-9.3,-9.1,-8.8,-9.2,-9.5,-9.3,-9.0,-9.2];
const t500_25 = [-11.8,-11.0,-10.3,-9.8,-9.7,-9.5,-9.4,-9.3,-10.0,-9.5,-9.0,-8.6,-7.7,-6.5,-4.8,-5.1,-5.6,-5.8,-6.2,-6.5,-7.2,-6.8,-6.5,-6.4,-6.5,-6.5,-6.6,-6.6,-6.8,-6.6,-6.5,-6.7,-6.8,-6.6,-6.5,-6.7,-6.9,-7.0,-7.1,-7.3,-7.6,-7.7,-7.4,-7.3,-7.6,-7.6,-7.7,-7.9,-8.1,-8.0,-8.0,-8.3,-8.5,-8.6,-8.5,-8.3,-8.4,-8.3,-8.3,-8.4,-8.8,-8.6,-8.5,-8.6,-8.8];
const t500_26 = [-11.9,-11.1,-10.4,-9.9,-9.9,-9.7,-9.7,-9.7,-10.4,-9.9,-9.3,-8.9,-8.1,-7.0,-5.3,-5.4,-5.7,-5.9,-6.2,-6.5,-7.2,-6.8,-6.5,-6.5,-6.7,-6.8,-7.0,-7.2,-7.4,-7.3,-7.2,-7.4,-7.5,-7.3,-7.2,-7.4,-7.7,-7.9,-7.8,-8.0,-8.4,-8.5,-8.2,-8.1,-8.4,-8.3,-8.4,-8.7,-9.0,-8.9,-8.9,-9.2,-9.5,-9.6,-9.5,-9.3,-9.4,-9.3,-9.3,-9.4,-9.8,-9.6,-9.5,-9.6,-9.8];
const t500_27 = [-11.6,-10.8,-10.1,-9.6,-9.6,-9.3,-9.2,-9.1,-9.8,-9.3,-8.8,-8.4,-7.5,-6.3,-4.7,-5.0,-5.5,-5.8,-6.2,-6.5,-7.2,-6.7,-6.5,-6.4,-6.5,-6.5,-6.6,-6.7,-6.9,-6.8,-6.7,-6.9,-7.0,-6.8,-6.7,-6.9,-7.1,-7.3,-7.4,-7.2,-6.9,-6.6,-6.3,-6.0,-5.8,-5.6,-5.3,-5.0,-4.9,-5.2,-5.6,-6.0,-6.4,-6.8,-7.2,-7.6,-8.0,-8.4,-8.2,-7.9,-7.6,-7.3,-7.0,-7.2,-7.5];
const t500_28 = [-11.8,-11.0,-10.3,-9.8,-9.8,-9.5,-9.5,-9.4,-10.1,-9.6,-9.1,-8.7,-7.9,-6.8,-5.2,-5.4,-5.8,-5.9,-5.9,-5.6,-5.1,-4.6,-4.1,-4.4,-5.0,-5.6,-6.1,-6.6,-7.0,-7.3,-7.5,-7.8,-8.0,-8.3,-8.6,-8.8,-9.1,-9.4,-9.6,-9.8,-10.1,-10.3,-10.5,-10.3,-10.0,-9.8,-10.1,-10.4,-10.7,-10.9,-11.1,-10.9,-10.6,-10.4,-10.7,-11.0,-11.3,-11.5,-11.2,-10.9,-11.2,-11.6,-12.0,-12.3,-12.6];
const t500_29 = [-11.8,-11.0,-10.3,-9.8,-9.8,-9.5,-9.5,-9.4,-10.1,-9.6,-9.1,-8.7,-7.9,-6.8,-5.0,-5.1,-5.5,-5.8,-6.2,-6.5,-7.3,-6.9,-6.7,-6.6,-6.7,-6.7,-6.8,-6.8,-6.9,-6.7,-6.5,-6.3,-6.1,-5.9,-5.8,-5.6,-5.4,-5.6,-5.9,-5.7,-5.3,-5.1,-5.0,-5.2,-5.5,-5.9,-6.4,-6.8,-7.2,-7.4,-7.1,-6.8,-7.0,-7.3,-7.5,-7.2,-6.9,-6.6,-6.3,-6.1,-5.9,-5.6,-5.4,-5.6,-5.9];
const t500_30 = [-11.7,-10.9,-10.2,-9.7,-9.7,-9.4,-9.4,-9.3,-10.0,-9.5,-9.0,-8.6,-7.8,-6.7,-5.1,-5.3,-5.8,-6.1,-6.5,-6.8,-7.6,-7.1,-6.9,-6.8,-6.9,-6.9,-7.0,-7.0,-7.2,-7.1,-7.1,-7.3,-7.4,-7.3,-7.3,-7.4,-7.6,-7.7,-7.7,-7.8,-8.2,-8.3,-8.0,-8.0,-8.3,-8.1,-7.9,-7.6,-7.7,-7.4,-7.1,-6.9,-7.2,-7.5,-7.3,-7.0,-6.7,-6.4,-6.1,-5.8,-5.5,-5.2,-4.9,-5.3,-5.7];

// ---- 6-hourly precipitation (mm), from 16/08 12Z ----
const meanPr = [0,0,0,0,0,0,0,0.3, 0,0.3,0.3,0.3,0.4,0.3,0,0, 0,0,0,0,0,0.3,0.3,0.3, 0.2,0,0.3,0.3,0.3,0,0.3,0.3, 0.5,0.5,0.3,0.2,0.2,0.3,0.2,0.1, 0.1,0.2,0.1,0.1,0.4,0.8,1.0,0.6, 0.3,0.3,0.4,0.4,0.3,0.3,0.2,0.1, 0.1,0.1,0.2,0.4,0.7,0.7,0.4,0];
const ctrlPr = [0,0,0,0,0,0,0,0.2, 0,0,0,0,0,0,0,0, 0,0,0,0,0,0,0,0, 0,0,0,0,0,0,0.3,0, 0.2,0,0,0,0,0,0,0, 0,0,0,0,0,0.7,4.3,1.3, 0.3,0,0,0,0,0,0,0, 0,0,0,0,0,0,0,0];
const gfsPr = [0,0,0,0,0,0,0,0, 0,0,0,0,0,0,0,0, 0,0,0,0,0,0,0,0, 0,0,0,0,0,0,0,0, 0,0,0,0,0,0,0,0, 0,0,0,0.3,0.8,3.0,0.7,0.4, 0,1.2,0.8,0.3,0,0,0,0, 0,0,0,0,0,0,0,0];
const pr_01 = [0,0,0,0,0,0,0,0, 0,0,0,0,0,0,0,0, 0,0,0,0,0,0.2,0,0, 0,0,0,0,0,0,0,0, 0,0,0,0,0,0,0,0, 0,0,0,0,0,0,0,0, 0,0,0,0,0,0,0,0, 0,0,0.8,1.1,0.6,0,0,0];
const pr_02 = [0,0,0,0,0,0,0,0, 0,0,0,0,0.3,0,0,0, 0,0,0,0,0,0,0,0, 0,0,0,0,0,0,0,0, 0,0,0,0,0,0,0,0, 0,0,0,0,0,0,0,0, 0,0,0,0,0,0,0,0, 0,0,0,0,0,0,0,0];
const pr_03 = [0,0,0,0,0,0,0,0, 0,0,0,0,0,0,0,0, 0,0,0,0,0,0,0,0, 0,0,0,0,0,0,0,0, 0,0,0,0,3.0,1.5,1.1,0.5, 0.4,0,0,0,0,0,0,0, 0,0,0,0,0,0,0,0, 0,0,0,0,0,0,0,0];
const pr_04 = [0,0,0,0,0,0,0,0, 0,0,0,0,0,0,0,0, 0,0,0,0,0,0,0,0, 0,0,0,0,0,0,0,0, 1.0,0.3,0,0,0,0,0,0, 0,0,0,0,0,0,0,0, 0,0,0,0,0,0,0,0, 0,0,0,0,1.2,6.6,0.9,0];
const pr_05 = [0,0,0,0,0,0,0,0, 0,0,0,0,0,0,0,0, 0,0,0,0,0,0,0,0, 0,0,0,0,0,0,0,0, 0,0,0,0,0,0,0,0, 0,0,0,0,0,0,0,0, 0,0,0,0,0,0,0,0, 0,0,0,0.7,11.1,0.8,0,0];
const pr_06 = [0,0,0,0,0,0,0,0, 0,0,0,0,0,0,0,0, 0,0,0,0,0,0,0,0, 0,0,0,0,0,0,0,0, 0,0,0,0,0,0,0,0, 0,0,0,0,0,0,0,0, 0,0,0,0,0,0,0,0, 0,0,0,0,0,0.3,0,0];
const pr_07 = [0,0,0,0,0,0,0,0, 0,0,0,0,0,0,0,0, 0,0,0,0,0,0,0,0, 0,0,0,0,0,0,0,0, 0,0,0,0,0,0,0,0, 0,0,0,0,0,0,0.5,0, 0,0,0,0,0,0,0,0, 0,0,0,0,0,0,0,0];
const pr_08 = [0,0,0,0,0,0,0,0, 0,0,0,0,0,0,0,0, 0,0,0,0,0,0,0,0, 0,0,0,0,0,0,0,0, 0,0,0,0,0,0,0,0, 0,0,0,0.5,0.3,0,0,0, 0,0,0,0,0,0,0,0, 0,0,0,0,0,0,0,0];
const pr_09 = [0,0,0,0,0,0,0,0, 0,0,0,0,0,0,0,0, 0,0,0,0,0,0,0,0, 0,0,0,0,0,0,0,0, 0,0,0,0,0,0,0,0, 0,0,0,0,0,0,0.4,0, 0,0,0,0,0,0,0,0, 0,0,0,0,0,0,0,0];
const pr_10 = [0,0,0,0,0,0,0,0, 0,0,0,0,0,0,0,0, 0,0,0,0,0,0,0,0, 0,0,0,0,0,0,0,0, 0,0,0,0,0,0,0,0, 0,0,0,0,0,0,0,0, 0,0,0,0,0,0,0,0, 0,0,0.5,6.1,1.0,0,0,0];
const pr_11 = [0,0,0,0,0,0,0,0, 0,0,0,0,0,0,0,0, 0,0,0,0,0,0,0,0, 0,0,0,0,0,0,0,0, 0,0,0,0,0,0,0,0, 1.0,0.5,0,0,0,0,0,0, 0,0,0,0,0,0,0,0, 0,0,0,0,0,0,0,0];
const pr_12 = [0,0,0,0,0,0,0,0, 0,0,0,0,0,0,0,0, 0,0,0,0,0,0,0,0, 0,0,0,0,0,0,0,0, 0,0,0,0,0,0,0,0, 0,0,0,0,0,0,0,0, 0,0,0,2.7,0.5,0,0,0, 0,1.3,1.1,1.0,1.2,2.6,5.3,0];
const pr_13 = [0,0,0,0,0,0,0,0, 0,0,0,0,0,0,0,0, 0,0,0,0,0,0,0,0, 0,0,0,0,0,0,0,0, 0,0,0,0.3,0,0,0,0, 0,0,0,0,0,0,0,0, 0,0,0,0,0,0,0,0, 0,0,0,0,0,0,0,0];
const pr_14 = [0,0,0,0,0,0,0,0, 0,0,0,0.5,1.1,0.4,0,0, 0,0,0,0,0,0,0,0, 0,0,0,0,0,0,0,0, 0,0,0,0,0,0,0,0, 0,0,0,0,0,0,0,0, 0,0,0,0,2.3,2.0,0.6,0, 0,0,0,0,0,0,0,0];
const pr_15 = [0,0,0,0,0,0,0,0, 0,0,0,0,0,0,0,0, 0,0,0,0,0,0,0,0, 0,0,0,0,0,0,0,0, 0,0,0,0,0,0,0,0, 0,0,0,0,0,0,0.3,0, 0,0,0,0,0,0,0,0, 0,0,0,0,0,0,0,0];
const pr_16 = [0,0,0,0,0,0,0,0, 0,0,0,0,0,0,0,0, 0,0,0,0,0,0,0,0, 0,0,0,0,0,0,0,0, 0,0,0,0,0,0,0,0, 0,0,0,0,0,0,0,0, 0,0,0,0,0,0,0,0, 0,0,0,0,0,0,0,0];
const pr_17 = [0,0,0,0,0,0,0,0, 0,0,0,0,0,0,0,0, 0,0,0,0,0,0,0,0, 0,0,0,0,0,0,0,0, 0,0,0,0,0,0,0,0, 0,0,0,0,0,0,0,0.5, 0,0,0,0,0,0,0,0, 0,0,0,0,0,0,0,0];
const pr_18 = [0,0,0,0,0,0,0,0, 0,0,0,0,0,0,0,0, 0,0,0,0,0,0,0,0, 0,0,0,0,0,0,0,0, 0,0,0,0,0,0,0,0, 0,0,0,0.3,3.9,11.7,13.4,3.7, 1.0,0.7,0,0,0,0,0,0, 0,0,0,0,0,0,0,0];
const pr_19 = [0,0,0,0,0,0,0,0, 0,0,0,0,0,0,0,0, 0,0,0,0,0,0,0,0, 0,0,0,0,0,0,0,0.1, 7.4,7.5,4.3,2.4,0.3,0,0,0, 0,0,0,0,0,0,0,0, 0,0,0,0,0,0,0,0, 0,0,0,0,0,0,0,0];
const pr_20 = [0,0,0,0,0,0,0,0, 0,0,0,0,0,0,0,0, 0,0,0,0,0,0,0,0, 0,0,0,0,0,0,0.4,0, 0,0,0,0,0,0,0,0, 0,0,0,0,0,0,0,0, 0,0,0,0,0,0,0,0, 0,0.7,0,0,0,0,0,0];
const pr_21 = [0,0,0,0,0,0,0,0, 0,0,0.3,0,0,0,0,0, 0,0,0,0,0,0.8,1.0,0.5, 0,0,0,0,0,0,0,0, 0,0,0,0,0,0,0,0, 0,0,0,0,0,0,0,0, 0,0,0,0,0,0,1.3,0.9, 0.5,0,0,0,0,0,0,0];
const pr_22 = [0,0,0,0,0,0,0,0, 0,0,0,0,0,0,0,0, 0,0,0,0,0,0,0,0, 0,0,0,0,0,0,0,0, 0,0,0,0,0,0,0,0, 0,0,0,0,0,0.6,0,0, 0,0,0,0,0,0,0,0, 0,0,0,0,0,0,0,0];
const pr_23 = [0,0,0,0,0,0,0,0, 0,0,0,0,0,0,0,0, 0,0,0,0,0,0,0,0, 0,0,0,0,0,0,0,0.4, 0,0,0,0,0,0,0,0, 0,0,0,0,0,1.5,0.8,0, 0,0,3.7,1.0,0,3.2,1.3,0, 0,0,0,0,0,0,0,0];
const pr_24 = [0,0,0,0,0,0,0,0, 0,0,0,0,0,0,0,0, 0,0,0,0,0,0,0,0, 0,0,0,0,0,0,0,0, 0,0,0,0,0,0,0,0, 0,2.0,1.0,0,0,0,0,0, 0,0,0,0,0,0,0,0, 0,0,0,0,0,0,0.8,0];
const pr_25 = [0,0,0,0,0,0,0,0, 0,0,0,0,0,0,0,0, 0,0,0,0,0,0,0,0, 0,0,0,0,0,0,0,0, 0,0,0,0,0,0,0,0, 0,0,0,0,0,0,0,0, 0,0,0,0,0,0,0,0, 0,0,0,0,0,1.2,0,0];
const pr_26 = [0,0,0,0,0,0,0,0, 0,0,0,0,0,0,0,0, 0,0,0,0,0,0,0,0, 0,0,0,0,0,0,0,0, 0,0,0,0,0,0,0,0, 0,0,0,0,0,0,0,0, 0,0,0,0,0.5,0,0,0, 0,0,0,0,0,0,0,0];
const pr_27 = [0,0,0,0,0,0,0,0, 0,0,0,0,0,0,0,0, 0,0,0,0,0,0,0,0, 0,0,0,0,0,0,0,0, 0,0,0,0,0,0,0,0, 0,0,0,0,0,0,0,0, 1.5,2.2,0,0,0,0,0,0, 1.0,0,0,0,0,0,0,0];
const pr_28 = [0,0,0,0,0,0,0,0, 0,0,0,0,0,0,0,0, 0,0,0,0,0,0,0,0, 0,0,0,0.4,0,0,0,0, 0,0,0,0,0,0,0,0, 0,0,0,0,0,0,0,0, 0,0,0,0,0,0,0,0, 0,0,0,0,0,0,0,0];
const pr_29 = [0,0,0,0,0,0,0,0, 0,0,0,0,0,0,0,0, 0,0,0,0,0,0,0,0, 0,0,0,0,0,0,0,0, 0,0,0,0,0,2.9,0.8,0, 0,0,0,0,0,0,0,0, 0,0,0,1.9,0.4,0,0,0, 0,0,0,0,0,0,0,0];
const pr_30 = [0,0,0,0,0,0,0,0, 0,0,0,0,0,0,0,0, 0,0,0,0,0,0,0,0, 0.3,0,0,0,0,0,0,0, 0,0,0,0,0,0,0,0, 0,0,0,0,0,0,0,0, 0,0,0,0,0,0,0,0, 0,0,0,0,0,0,0,0];

const t850Members = [t850_01,t850_02,t850_03,t850_04,t850_05,t850_06,t850_07,t850_08,t850_09,t850_10,t850_11,t850_12,t850_13,t850_14,t850_15,t850_16,t850_17,t850_18,t850_19,t850_20,t850_21,t850_22,t850_23,t850_24,t850_25,t850_26,t850_27,t850_28,t850_29,t850_30];
const t500Members = [t500_01,t500_02,t500_03,t500_04,t500_05,t500_06,t500_07,t500_08,t500_09,t500_10,t500_11,t500_12,t500_13,t500_14,t500_15,t500_16,t500_17,t500_18,t500_19,t500_20,t500_21,t500_22,t500_23,t500_24,t500_25,t500_26,t500_27,t500_28,t500_29,t500_30];
const prMembers = [pr_01,pr_02,pr_03,pr_04,pr_05,pr_06,pr_07,pr_08,pr_09,pr_10,pr_11,pr_12,pr_13,pr_14,pr_15,pr_16,pr_17,pr_18,pr_19,pr_20,pr_21,pr_22,pr_23,pr_24,pr_25,pr_26,pr_27,pr_28,pr_29,pr_30];

const FONT = 'DejaVu Sans Mono';
const cats = mean850.map((v, i) => String(i * 6));
const isDay = i => i % 4 === 3;
const prSeries = arr => [null].concat(arr);

const chart = echarts.init(document.getElementById('c'), null, {renderer: 'canvas'});
const series = [];

// horizontal grid lines
const hl = gridValues.map(v => ({yAxis: v, lineStyle: {type: 'solid', color: '#c0c0c0', width: v % 10 === 0 ? 2 : 1}}));
hl.push({yAxis: 0.2, lineStyle: {type: 'solid', color: '#8c8c8c', width: 1}});
hl.push({yAxis: 0, lineStyle: {type: 'solid', color: '#c4c4c4', width: 2}});
series.push({type: 'line', data: mean850, yAxisIndex: 0, symbol: 'none', silent: true, z: 0,
  lineStyle: {opacity: 0}, markLine: {silent: true, symbol: ['none', 'none'], label: {show: false}, animation: false, data: hl}});

function member(data, color, axis) {
  return {type: 'line', data: data, yAxisIndex: axis, symbol: 'diamond', symbolSize: 3, showSymbol: true, showAllSymbol: true,
    silent: true, z: 2, lineStyle: {color: color, width: 1}, itemStyle: {color: color}};
}
function thick(data, color, w, axis, z) {
  return {type: 'line', data: data, yAxisIndex: axis, symbol: 'none', silent: true, z: z,
    lineStyle: {color: color, width: w}};
}
for (let k = 0; k < 30; k++) {
  series.push(member(t850Members[k], pertColors[k], 0));
  series.push(member(t500Members[k], pertColors[k], 0));
  series.push(member(prSeries(prMembers[k]), pertColors[k], 1));
}
series.push(thick(gfs850, '#000000', 3, 0, 3));
series.push(thick(gfs500, '#000000', 3, 0, 3));
series.push(thick(prSeries(gfsPr), '#000000', 3, 1, 3));
series.push(thick(ctrl850, '#0000ff', 3, 0, 4));
series.push(thick(ctrl500, '#0000ff', 3, 0, 4));
series.push(thick(prSeries(ctrlPr), '#0000ff', 3, 1, 4));
series.push(thick(mean850, '#ff0000', 4, 0, 5));
series.push(thick(mean500, '#ff0000', 4, 0, 5));
series.push(thick(prSeries(meanPr), '#ff0000', 4, 1, 5));

// legend / texts
const g = [];
const txt = (x, y, text, font, color) => ({type: 'text', x: x, y: y, z: 100,
  style: {text: text, font: font || ('10px ' + FONT), fill: color || '#000', verticalAlign: 'middle', align: 'left'}});
g.push(txt(60, 62, 'Temp. 850hPa'));
g.push(txt(60, 284, 'Temp. 500hPa'));
g.push(txt(60, 536, 'Précipitations'));
g.push(txt(20, 607, '(°C)'));
g.push(txt(711, 607, '(mm)'));
g.push(txt(10, 624, 'Alt. 162m'));
g.push({type: 'rect', z: 100, shape: {x: 35, y: 635, width: 31, height: 4}, style: {fill: '#ff0000'}});
g.push(txt(75, 637, 'Moyenne des scénarios'));
g.push({type: 'rect', z: 100, shape: {x: 225, y: 635, width: 31, height: 4}, style: {fill: '#0000ff'}});
g.push(txt(265, 637, 'Run de contrôle'));
g.push({type: 'rect', z: 100, shape: {x: 225, y: 645, width: 31, height: 4}, style: {fill: '#000000'}});
g.push(txt(265, 647, 'Run GFS'));
g.push(txt(55, 658, '❄', '13px DejaVu Sans', '#5aa8ee'));
g.push(txt(75, 659, 'Risque neige'));
g.push(txt(341, 652, '30 Perts.'));
for (let k = 0; k < 30; k++) {
  g.push({type: 'rect', z: 100, shape: {x: 400 + k * 10.95, y: 650, width: 9.8, height: 6}, style: {fill: pertColors[k]}});
  g.push({type: 'text', z: 100, x: 405 + k * 10.95, y: 644,
    style: {text: String(k + 1).padStart(2, '0'), font: 'bold 7px ' + FONT, fill: '#000', align: 'center', verticalAlign: 'middle'}});
}
g.push({type: 'rect', z: 100, shape: {x: 20.5, y: 667.5, width: 420, height: 31}, style: {fill: 'none', stroke: '#000', lineWidth: 1}});
g.push(txt(30, 677, 'Diagramme des ensembles GEFS sur 384h : 40.6N 22.9E', 'bold 11.7px ' + FONT));
g.push(txt(30, 692, 'Températures 850hPa et 500hPa (°C) , précipitations (mm)'));
g.push(txt(453, 672, 'Ensemble GEFS du 16/08/2026 - 06Z'));
g.push(txt(453, 692, 'Copyright 2026 Meteociel.fr', 'bold 11.7px ' + FONT));

const yMin = 33 - 600 / 7;
chart.setOption({
  animation: false,
  backgroundColor: '#ffffff',
  grid: {left: 50, right: 50, top: 0, bottom: 100, containLabel: false},
  xAxis: {
    type: 'category', data: cats, boundaryGap: false,
    axisLine: {onZero: false, lineStyle: {color: '#000', width: 1}},
    axisTick: {show: false},
    splitLine: {show: true, interval: (i) => isDay(i), lineStyle: {color: '#c0c0c0', width: 1}},
    axisLabel: {interval: (i) => isDay(i), formatter: (v, i) => isDay(i) ? dayLabels[(i - 3) / 4] : '',
      rotate: -90, margin: 2, align: 'left', verticalAlign: 'bottom', fontFamily: FONT, fontSize: 10, color: '#000'}
  },
  yAxis: [
    {type: 'value', position: 'left', min: yMin, max: 33,
      axisLine: {show: true, lineStyle: {color: '#000', width: 1}}, axisTick: {show: false}, splitLine: {show: false},
      axisLabel: {customValues: leftTicks, align: 'left', margin: 30, fontFamily: FONT, fontSize: 10, color: '#000'}},
    {type: 'value', position: 'right', min: yMin + 45, max: 78,
      axisLine: {show: true, lineStyle: {color: '#000', width: 1}}, axisTick: {show: false}, splitLine: {show: false},
      axisLabel: {customValues: rightTicks, align: 'left', margin: 20, fontFamily: FONT, fontSize: 10, color: '#000'}}
  ],
  graphic: g,
  series: series
});
</script>
</body></html>
